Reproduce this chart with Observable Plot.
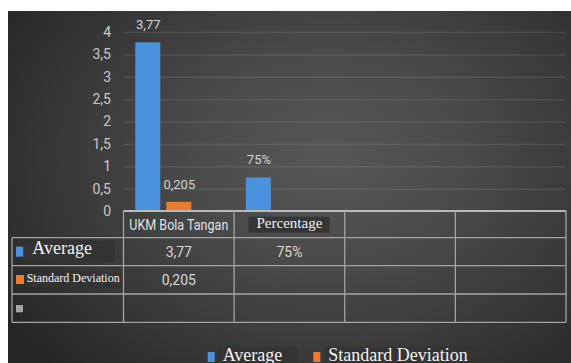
<!DOCTYPE html>
<html>
<head>
<meta charset="utf-8">
<script src="https://cdn.jsdelivr.net/npm/d3@7"></script>
<script src="https://cdn.jsdelivr.net/npm/@observablehq/plot@0.6"></script>
<style>
  html, body { margin: 0; padding: 0; background: #fff; width: 571px; height: 363px; overflow: hidden; }
  #frame {
    position: absolute; left: 8px; top: 11px; width: 563px; height: 352px; overflow: hidden;
    background: radial-gradient(ellipse 70% 85% at 57% 42%, #575757 0%, #4a4a4a 35%, #373737 70%, #252525 100%);
  }
  #grid, #chart, #overlay { position: absolute; left: 0; top: 0; }
</style>
</head>
<body>
<div id="frame">
  <div id="grid"></div>
  <div id="chart"></div>
  <svg id="overlay" width="563" height="352"></svg>
</div>
<script>
// Categories along the x axis (last two columns of the data table are empty)
const categories = ["UKM Bola Tangan", "Percentage", "", ""];
const categoryFormats = ["number", "percent", "number", "number"];

// Series, one value per category
const seriesNames = ["Average", "Standard Deviation", ""];
const seriesColors = ["#4a92de", "#f07a28", "#a5a5a5"];
const averageValues = [3.77, 0.75, null, null];
const stdDevValues = [0.205, null, null, null];
const blankValues = [null, null, null, null];

// Value axis ticks
const yTicks = [0, 0.5, 1, 1.5, 2, 2.5, 3, 3.5, 4];

const locale = d3.formatLocale({decimal: ",", thousands: ".", grouping: [3], currency: ["", ""]});
const fmtNumber = locale.format("~g");
const fmtPercent = locale.format(".0%");
const fmtValue = (v, c) => categoryFormats[c] === "percent" ? fmtPercent(v) : fmtNumber(v);

const seriesValues = [averageValues, stdDevValues, blankValues];
const rows = [];
seriesValues.forEach((vals, s) => vals.forEach((v, c) => { if (v != null) rows.push({c, s, v}); }));

const W = 563, H = 200;
const frameMargins = {marginTop: 21, marginBottom: 0, marginLeft: 115.5, marginRight: 5};
const yScale = {domain: [0, 4], ticks: yTicks, tickFormat: fmtNumber, tickSize: 0, tickPadding: 13, label: null};

// Horizontal gridlines across the whole plot area (all four category columns)
const grid = Plot.plot({
  width: W, height: H, ...frameMargins,
  style: {background: "transparent", overflow: "visible"},
  y: {...yScale, axis: null},
  marks: [
    Plot.ruleY(yTicks.slice(1), {stroke: "#ffffff", strokeOpacity: 0.09, strokeWidth: 1.5})
  ]
});
document.getElementById("grid").appendChild(grid);

// Clustered bars: one facet per category, one band per series
const chart = Plot.plot({
  width: W, height: H, ...frameMargins,
  style: {background: "transparent", overflow: "visible", color: "#c8c8c8",
    fontFamily: "Roboto, sans-serif", fontSize: "14px"},
  fx: {domain: d3.range(categories.length), padding: 0, axis: null, round: false},
  x: {domain: d3.range(seriesNames.length), paddingInner: 0.194, paddingOuter: 0.38, axis: null, round: false},
  y: yScale,
  color: {type: "ordinal", domain: d3.range(seriesNames.length), range: seriesColors},
  marks: [
    Plot.barY(rows, {fx: "c", x: "s", y: "v", fill: "s"}),
    Plot.text(rows, {fx: "c", x: "s", y: "v", text: d => fmtValue(d.v, d.c), dy: -13.5,
      lineAnchor: "bottom", fill: "#d2d2d2", fontSize: 13})
  ]
});
document.getElementById("chart").appendChild(chart);

// Data table under the plot, aligned with the category bands
const fxScale = chart.scale("fx");
const colEdges = categories.map((_, i) => fxScale.apply(i));
colEdges.push(fxScale.apply(categories.length - 1) + fxScale.bandwidth);
const leftEdge = 4;
const rowEdges = [H, H + 26.7, H + 54.7, H + 83, H + 111.3];

const svg = d3.select("#overlay");
const lineColor = "#a4a4a4";
// horizontal rules
rowEdges.forEach((y, i) => {
  svg.append("line")
    .attr("x1", i === 0 ? colEdges[0] : leftEdge).attr("x2", colEdges[colEdges.length - 1])
    .attr("y1", y).attr("y2", y)
    .attr("stroke", i === 0 ? "#bababa" : lineColor).attr("stroke-width", i === 0 ? 2 : 1.3);
});
// vertical rules
svg.append("line").attr("x1", leftEdge).attr("x2", leftEdge)
  .attr("y1", rowEdges[1]).attr("y2", rowEdges[4]).attr("stroke", lineColor).attr("stroke-width", 1.3);
colEdges.forEach(x => {
  svg.append("line").attr("x1", x).attr("x2", x)
    .attr("y1", rowEdges[0]).attr("y2", rowEdges[4]).attr("stroke", lineColor).attr("stroke-width", 1.3);
});

const colCenter = i => (colEdges[i] + colEdges[i + 1]) / 2;

// header row
svg.append("text").attr("x", colCenter(0)).attr("y", rowEdges[0] + 19)
  .attr("text-anchor", "middle").attr("fill", "#e0e0e0")
  .attr("font-family", "Roboto, sans-serif").attr("font-size", 14)
  .attr("textLength", 99).attr("lengthAdjust", "spacingAndGlyphs")
  .text(categories[0]);
svg.append("rect").attr("x", colCenter(1) - 41).attr("y", rowEdges[0] + 5.7)
  .attr("width", 81).attr("height", 16).attr("fill", "#353535");
svg.append("text").attr("x", colCenter(1)).attr("y", rowEdges[0] + 17.3)
  .attr("text-anchor", "middle").attr("fill", "#f0f0f0")
  .attr("font-family", "'Liberation Serif', serif").attr("font-size", 15)
  .text(categories[1]);

// series rows: swatch, label and values
const rowSpecs = [
  {swatch: [8, 235.7, 7.3, 10], box: [17, 229.7, 90, 21], textX: 24.3, baseline: 243, size: 18},
  {swatch: [8, 264, 8, 9], box: [17, 261.7, 95.7, 14.6], textX: 18.7, baseline: 271.3, size: 12},
  {swatch: [8, 294, 7, 7.3], box: null, textX: 0, baseline: 300, size: 12}
];
seriesNames.forEach((name, s) => {
  const r = rowSpecs[s];
  svg.append("rect").attr("x", r.swatch[0]).attr("y", r.swatch[1])
    .attr("width", r.swatch[2]).attr("height", r.swatch[3]).attr("fill", seriesColors[s]);
  if (name) {
    svg.append("rect").attr("x", r.box[0]).attr("y", r.box[1])
      .attr("width", r.box[2]).attr("height", r.box[3]).attr("fill", "#333333");
    svg.append("text").attr("x", r.textX).attr("y", r.baseline).attr("fill", "#f2f2f2")
      .attr("font-family", "'Liberation Serif', serif").attr("font-size", r.size).text(name);
  }
  seriesValues[s].forEach((v, c) => {
    if (v == null) return;
    svg.append("text").attr("x", colCenter(c)).attr("y", rowEdges[s + 1] + 19.6)
      .attr("text-anchor", "middle").attr("fill", "#d8d8d8")
      .attr("font-family", "Roboto, sans-serif").attr("font-size", 14)
      .text(fmtValue(v, c));
  });
});

// legend (named series only), centred under the plot area
const legend = svg.append("g");
let lx = 0;
seriesNames.forEach((name, s) => {
  if (!name) return;
  const g = legend.append("g");
  g.append("rect").attr("x", lx).attr("y", 341).attr("width", 7).attr("height", 10).attr("fill", seriesColors[s]);
  const bg = g.append("rect").attr("y", 335.7).attr("height", 20).attr("fill", "#343434");
  const t = g.append("text").attr("x", lx + 15).attr("y", 350).attr("fill", "#f2f2f2")
    .attr("font-family", "'Liberation Serif', serif").attr("font-size", 18).text(name);
  const tw = t.node().getComputedTextLength();
  bg.attr("x", lx + 11).attr("width", tw + (s === 0 ? 19 : 8));
  lx += 15 + tw + 31;
});
const legendWidth = lx - 31;
const plotCenter = (colEdges[0] + colEdges[colEdges.length - 1]) / 2;
legend.attr("transform", `translate(${plotCenter - legendWidth / 2 - 7},0)`);
</script>
</body>
</html>
